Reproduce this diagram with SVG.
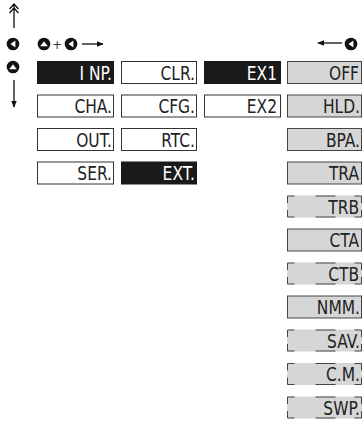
<svg xmlns="http://www.w3.org/2000/svg" width="364" height="425" viewBox="0 0 364 425">
<style>
text{font-family:"Liberation Sans Narrow","DejaVu Sans Condensed","Liberation Sans",sans-serif;font-size:20px;text-anchor:end}
.w rect{fill:#fff;stroke:#333;stroke-width:1}
.w text{fill:#222}
.b rect{fill:#1a1a1a;stroke:#1a1a1a;stroke-width:1}
.b text{fill:#fff}
.g rect{fill:#d6d6d6;stroke:#444;stroke-width:1}
.g text{fill:#222}
.d rect{fill:#d6d6d6;stroke:none}
.d text{fill:#222}
.frame{fill:none;stroke:#444;stroke-width:1}
.ln{stroke:#111;stroke-width:1.3;fill:none}
</style>
<defs>
<marker id="ah" viewBox="0 0 10 10" refX="9" refY="5" markerWidth="7" markerHeight="7" markerUnits="userSpaceOnUse" orient="auto">
<path d="M0,1 L10,5 L0,9 Z" fill="#111"/>
</marker>
<g id="btnL"><circle r="6.3" fill="#111"/><path d="M-2.6,0 L2.4,-3.5 L2.4,3.5 Z" fill="#fff"/></g>
<g id="btnU"><circle r="6.3" fill="#111"/><path d="M0,-2.8 L3.8,2.2 L-3.8,2.2 Z" fill="#fff"/></g>
<path id="dash" class="frame" d="M0.5,7.5 V0.5 H7.5 M28.5,0.5 H48.5 M67.5,0.5 H74.5 V7.5 M74.5,14.5 V21.5 H67.5 M48.5,21.5 H28.5 M7.5,21.5 H0.5 V14.5"/>
</defs>

<g id="connectors">
<path class="ln" d="M14,28 V5 M9.5,9 L14,4 L18.5,9 M9.5,13 L14,8 L18.5,13"/>
<path class="ln" d="M14,80 V107" marker-end="url(#ah)"/>
<path class="ln" d="M82,44 H103" marker-end="url(#ah)"/>
<path class="ln" d="M342,43 H318" marker-end="url(#ah)"/>
</g>

<g id="icons">
<use href="#btnL" x="13" y="44"/>
<use href="#btnU" x="13" y="67"/>
<use href="#btnU" x="44" y="44"/>
<text x="62" y="49" style="font-size:13px;fill:#333">+</text>
<use href="#btnL" x="71" y="44"/>
<use href="#btnL" x="351" y="44"/>
</g>

<g id="n-inp" class="b"><rect x="37.5" y="61.5" width="76" height="22"/><text transform="translate(112,79.5) scale(.86,1)">I NP.</text></g>
<g id="n-cha" class="w"><rect x="37.5" y="95" width="76" height="22"/><text transform="translate(112,113) scale(.86,1)">CHA.</text></g>
<g id="n-out" class="w"><rect x="37.5" y="128.5" width="76" height="22"/><text transform="translate(112,146.5) scale(.86,1)">OUT.</text></g>
<g id="n-ser" class="w"><rect x="37.5" y="162" width="76" height="22"/><text transform="translate(112,180) scale(.86,1)">SER.</text></g>

<g id="n-clr" class="w"><rect x="121.5" y="61.5" width="75" height="22"/><text transform="translate(195,79.5) scale(.86,1)">CLR.</text></g>
<g id="n-cfg" class="w"><rect x="121.5" y="95" width="75" height="22"/><text transform="translate(195,113) scale(.86,1)">CFG.</text></g>
<g id="n-rtc" class="w"><rect x="121.5" y="128.5" width="75" height="22"/><text transform="translate(195,146.5) scale(.86,1)">RTC.</text></g>
<g id="n-ext" class="b"><rect x="121.5" y="162" width="75" height="22"/><text transform="translate(195,180) scale(.86,1)">EXT.</text></g>

<g id="n-ex1" class="b"><rect x="204.5" y="61.5" width="76" height="22"/><text transform="translate(277,79.5) scale(.86,1)">EX1</text></g>
<g id="n-ex2" class="w"><rect x="204.5" y="95" width="76" height="22"/><text transform="translate(277,113) scale(.86,1)">EX2</text></g>

<g id="n-off" class="g"><rect x="287.5" y="61.5" width="74" height="22"/><text transform="translate(359,79.5) scale(.86,1)">OFF</text></g>
<g id="n-hld" class="g"><rect x="287.5" y="95" width="74" height="22"/><text transform="translate(360,113) scale(.86,1)">HLD.</text></g>
<g id="n-bpa" class="g"><rect x="287.5" y="128.5" width="74" height="22"/><text transform="translate(360,146.5) scale(.86,1)">BPA.</text></g>
<g id="n-tra" class="g"><rect x="287.5" y="162" width="74" height="22"/><text transform="translate(359,180) scale(.86,1)">TRA</text></g>
<g id="n-trb" class="d"><rect x="287" y="195.5" width="75" height="22"/><use href="#dash" x="287" y="195.5"/><text transform="translate(359,213.5) scale(.86,1)">TRB</text></g>
<g id="n-cta" class="g"><rect x="287.5" y="229" width="74" height="22"/><text transform="translate(359,247) scale(.86,1)">CTA</text></g>
<g id="n-ctb" class="d"><rect x="287" y="262.5" width="75" height="22"/><use href="#dash" x="287" y="262.5"/><text transform="translate(359,280.5) scale(.86,1)">CTB</text></g>
<g id="n-nmm" class="g"><rect x="287.5" y="296" width="74" height="22"/><text transform="translate(360,314) scale(.86,1)">NMM.</text></g>
<g id="n-sav" class="d"><rect x="287" y="329.5" width="75" height="22"/><use href="#dash" x="287" y="329.5"/><text transform="translate(360,347.5) scale(.86,1)">SAV.</text></g>
<g id="n-cm" class="d"><rect x="287" y="363" width="75" height="22"/><use href="#dash" x="287" y="363"/><text transform="translate(360,381) scale(.86,1)">C.M.</text></g>
<g id="n-swp" class="d"><rect x="287" y="396.5" width="75" height="22"/><use href="#dash" x="287" y="396.5"/><text transform="translate(360,414.5) scale(.86,1)">SWP.</text></g>
</svg>
